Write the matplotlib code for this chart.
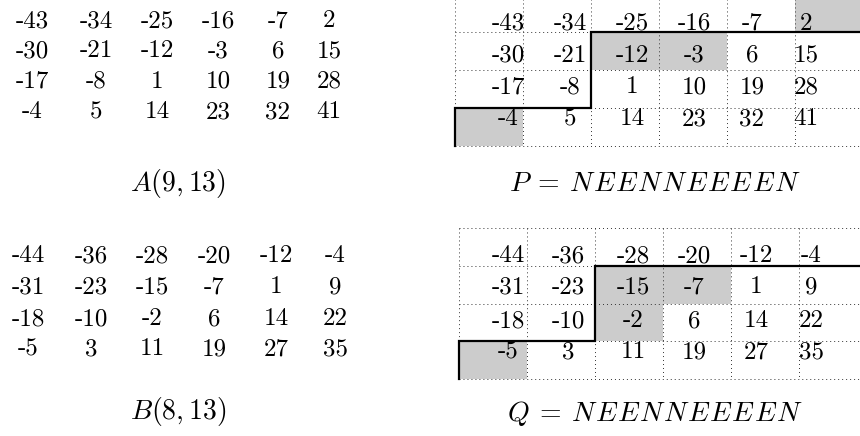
"""Two matrices A(9,13), B(8,13) with their lattice paths P and Q drawn on a grid."""

import matplotlib
matplotlib.use("Agg")
import matplotlib.pyplot as plt
from matplotlib.patches import Rectangle

plt.rcParams["mathtext.fontset"] = "cm"

# --- data -------------------------------------------------------------
A = [[-43, -34, -25, -16, -7, 2],
     [-30, -21, -12, -3, 6, 15],
     [-17, -8, 1, 10, 19, 28],
     [-4, 5, 14, 23, 32, 41]]
B = [[-44, -36, -28, -20, -12, -4],
     [-31, -23, -15, -7, 1, 9],
     [-18, -10, -2, 6, 14, 22],
     [-5, 3, 11, 19, 27, 35]]

A_label = r"$A(9,13)$"
B_label = r"$B(8,13)$"
P_name, P_path = "P", "NEENNEEEEN"
Q_name, Q_path = "Q", "NEENNEEEEN"

# shaded cells as (row, col), row 0 on top
P_shaded = [(3, 0), (1, 2), (1, 3), (0, 5)]
Q_shaded = [(3, 0), (1, 2), (1, 3), (2, 2)]

# --- layout (pixel units, y downwards) ----------------------------------
W, H = 860, 436
FS = 18
CAP_FS = 20
CELL_W, CELL_H = 68.0, 37.8
NUM_FONT = "cmr10"
DOTS = dict(color="#333333", lw=0.7, ls=(0, (1.0, 3.1)), zorder=2)


def path_label(name, path):
    # TeX spaces math-italic capitals a bit wider than mathtext does
    return "$" + name + r"\:=\:" + r"\hspace{0.07}".join(path) + "$"


def plain_matrix(ax, M, label, col_x, row_y, label_xy):
    for i, row in enumerate(M):
        for j, v in enumerate(row):
            ax.text(col_x[j], row_y[i], str(v), ha="center", va="baseline",
                    fontsize=FS, family=NUM_FONT)
    ax.text(label_xy[0], label_xy[1], label, ha="center", va="baseline", fontsize=CAP_FS)


def path_grid(ax, M, shaded, path, label, x0, y0, col_x, row_y, label_xy):
    nrows, ncols = len(M), len(M[0])
    bottom = y0 + nrows * CELL_H
    right = x0 + ncols * CELL_W
    for r, c in shaded:
        ax.add_patch(Rectangle((x0 + c * CELL_W, y0 + r * CELL_H), CELL_W, CELL_H,
                               facecolor="#cccccc", edgecolor="none", zorder=1))
    for i in range(nrows + 1):
        ax.plot([x0, right], [y0 + i * CELL_H] * 2, **DOTS)
    for j in range(ncols + 1):
        ax.plot([x0 + j * CELL_W] * 2, [y0, bottom], **DOTS)
    # lattice path from the lower-left corner
    px, py = [x0], [bottom]
    for step in path:
        if step == "N":
            px.append(px[-1]); py.append(py[-1] - CELL_H)
        else:
            px.append(px[-1] + CELL_W); py.append(py[-1])
    ax.plot(px, py, color="black", lw=1.6, solid_joinstyle="miter", zorder=3)
    for i, row in enumerate(M):
        for j, v in enumerate(row):
            ax.text(col_x[j], row_y[i], str(v), ha="center", va="baseline",
                    fontsize=FS, family=NUM_FONT, zorder=4)
    ax.text(label_xy[0], label_xy[1], label, ha="center", va="baseline", fontsize=CAP_FS)


fig = plt.figure(figsize=(W / 100, H / 100), dpi=100)
ax = fig.add_axes([0, 0, 1, 1])
ax.set_xlim(0, W)
ax.set_ylim(H, 0)
ax.axis("off")

plain_matrix(ax, A, A_label, [32, 96, 157, 218, 278, 329], [27, 57, 88, 118], (178, 191))
plain_matrix(ax, B, B_label, [28, 91, 152, 214, 276, 335], [262, 293, 325, 355], (178, 419))

path_grid(ax, A, P_shaded, P_path, path_label(P_name, P_path), 455, -5.5,
          [508, 570, 632, 694, 752, 806], [30, 62, 93, 125], (655, 191))
path_grid(ax, B, Q_shaded, Q_path, path_label(Q_name, Q_path), 459, 228,
          [508, 568, 633, 694, 756, 811], [262, 293, 327, 358], (655, 421))

fig.savefig("out.png", dpi=100)
